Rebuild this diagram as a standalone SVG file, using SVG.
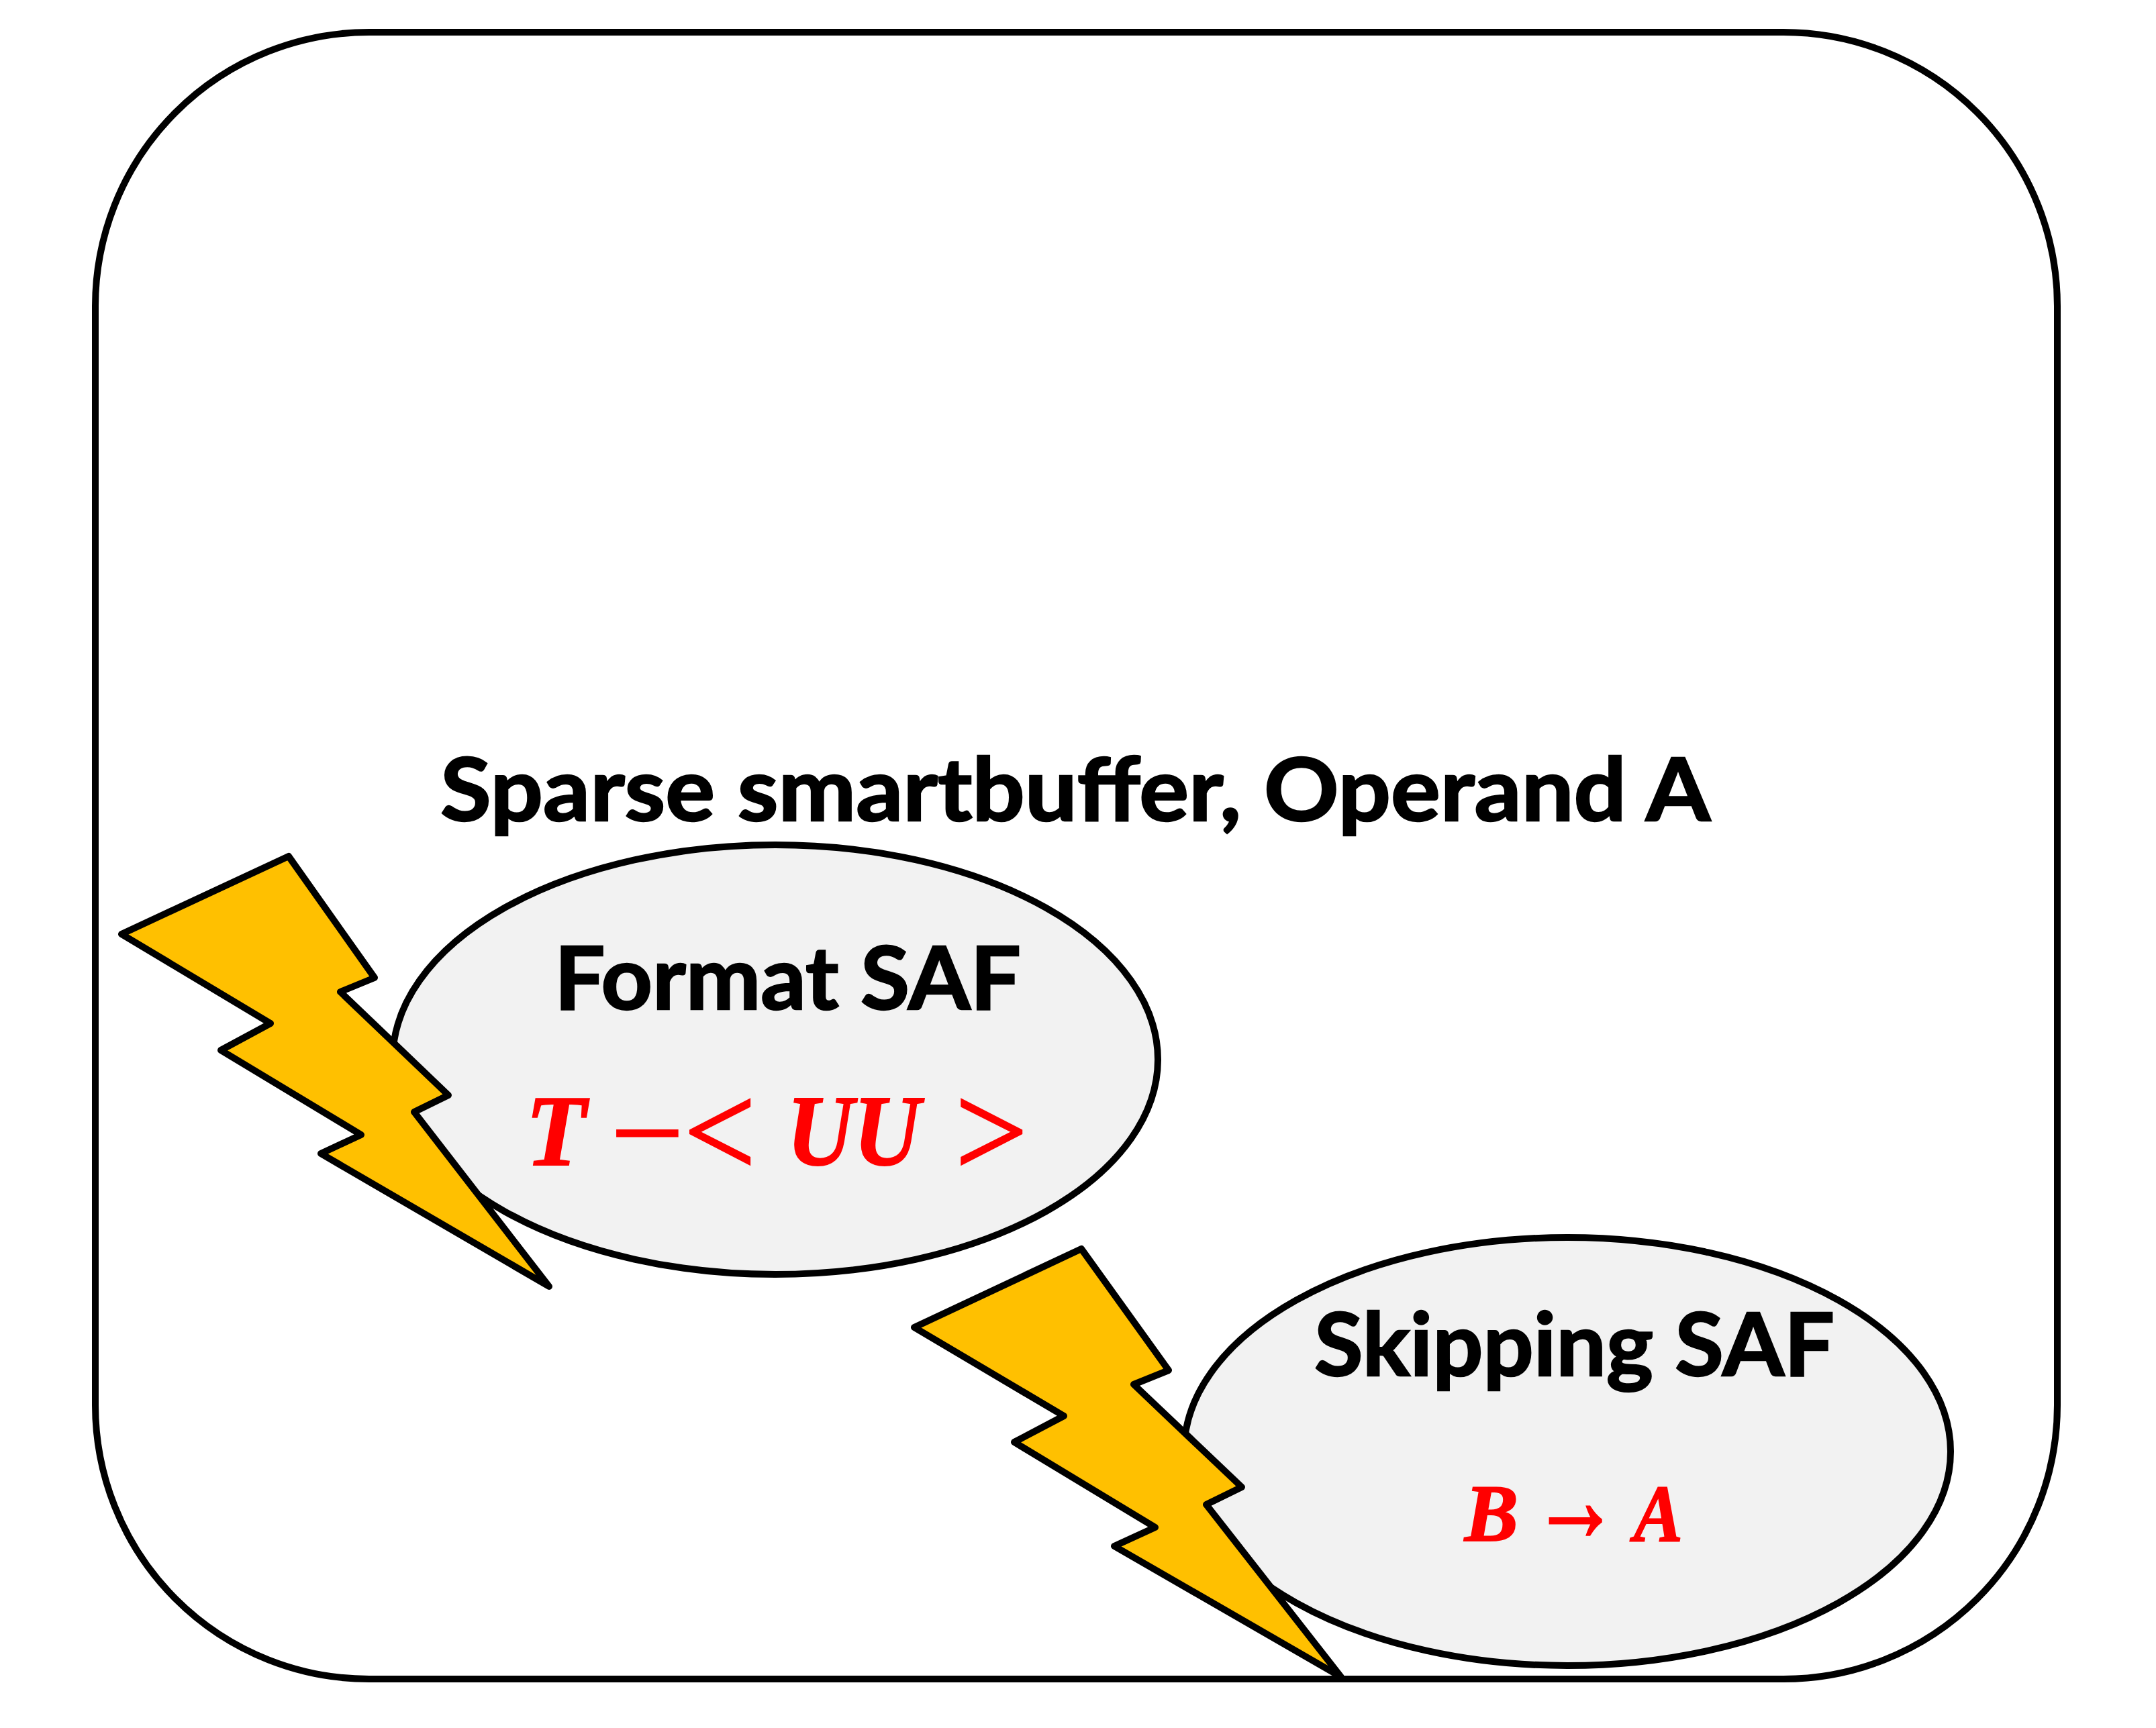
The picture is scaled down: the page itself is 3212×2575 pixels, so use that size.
<svg xmlns="http://www.w3.org/2000/svg" width="3212" height="2575" viewBox="0 0 3212 2575">
<style>
.outline{fill:#fff;stroke:#000;stroke-width:10}
.bubble{fill:#F2F2F2;stroke:#000;stroke-width:10}
.bolt{fill:#FFC000;stroke:#000;stroke-width:10;stroke-linejoin:round}
.label{font-family:"Lato","Open Sans","Liberation Sans",sans-serif;font-weight:700;font-size:130px;fill:#000;stroke:#000;stroke-width:2.5}
.mi{font-family:"Liberation Serif",serif;font-weight:700;font-style:italic;fill:#f00;stroke:#f00;stroke-width:2}
.mo{font-family:"Liberation Serif",serif;font-weight:400;fill:#f00;stroke:#f00;stroke-width:3}
</style>
<rect width="3212" height="2575" fill="#fff"/>
<g id="buffer">
<rect class="outline" x="142" y="48" width="2923" height="2454" rx="408" ry="408"/>
<text class="label" x="656" y="1223" textLength="1892" lengthAdjust="spacingAndGlyphs">Sparse smartbuffer, Operand A</text>
</g>
<g id="format-saf">
<ellipse class="bubble" cx="1155" cy="1579" rx="570" ry="320"/>
<text class="label" x="826" y="1504" textLength="695" lengthAdjust="spacingAndGlyphs">Format SAF</text>
<text class="mi" x="783" y="1736" font-size="150" textLength="90" lengthAdjust="spacingAndGlyphs">T</text>
<text class="mo" x="910" y="1745" font-size="170" textLength="108" lengthAdjust="spacingAndGlyphs">−</text>
<text class="mo" x="1019" y="1753" font-size="200" textLength="107" lengthAdjust="spacingAndGlyphs">&lt;</text>
<text class="mi" x="1172" y="1736" font-size="150" textLength="199" lengthAdjust="spacingAndGlyphs">UU</text>
<text class="mo" x="1423" y="1753" font-size="200" textLength="108" lengthAdjust="spacingAndGlyphs">&gt;</text>
</g>
<g id="format-bolt">
<polygon class="bolt" points="430,1276 558,1457 507,1478 668,1632 617,1657 818,1917 478,1719 538,1691 329,1565 403,1525 181,1392"/>
</g>
<g id="skipping-saf">
<ellipse class="bubble" cx="2335" cy="2163" rx="571" ry="319"/>
<text class="label" x="1958" y="2050" textLength="775" lengthAdjust="spacingAndGlyphs">Skipping SAF</text>
<text class="mi" x="2182" y="2296" font-size="121" textLength="80" lengthAdjust="spacingAndGlyphs">B</text>
<text class="mo" x="2282" y="2296" font-size="180" textLength="130" lengthAdjust="spacingAndGlyphs">→</text>
<text class="mi" x="2434" y="2296" font-size="121" textLength="73" lengthAdjust="spacingAndGlyphs">A</text>
</g>
<g id="skipping-bolt">
<polygon class="bolt" points="1611,1861 1741,2042 1689,2063 1850,2216 1797,2242 1998,2499 1660,2304 1721,2276 1511,2149 1585,2110 1362,1978"/>
</g>
</svg>
